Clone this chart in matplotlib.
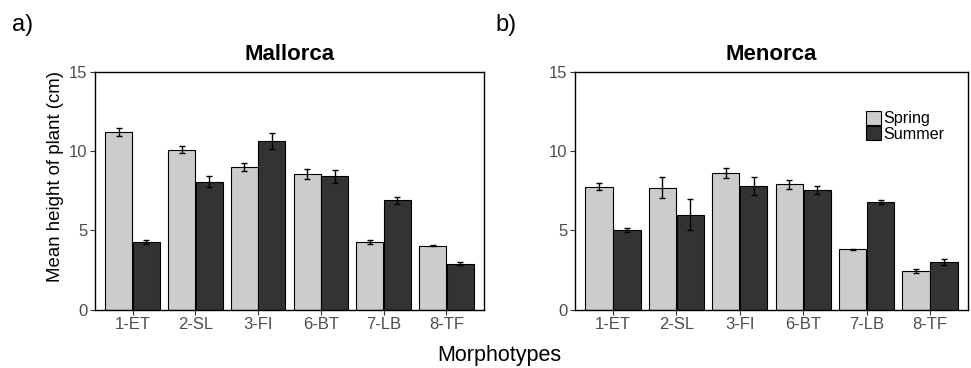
import matplotlib
matplotlib.use("Agg")
import matplotlib.pyplot as plt
import numpy as np
from matplotlib.patches import Patch

plt.rcParams['font.family'] = ['Liberation Sans', 'DejaVu Sans']

categories = ["1-ET", "2-SL", "3-FI", "6-BT", "7-LB", "8-TF"]
seasons = ["Spring", "Summer"]

mallorca_spring = [11.2, 10.1, 9.0, 8.56, 4.27, 4.04]
mallorca_spring_err = [0.25, 0.2, 0.28, 0.3, 0.15, 0.03]
mallorca_summer = [4.27, 8.07, 10.64, 8.41, 6.9, 2.9]
mallorca_summer_err = [0.15, 0.35, 0.53, 0.42, 0.22, 0.1]

menorca_spring = [7.76, 7.7, 8.62, 7.9, 3.8, 2.44]
menorca_spring_err = [0.23, 0.64, 0.3, 0.3, 0.05, 0.14]
menorca_summer = [5.03, 5.99, 7.8, 7.55, 6.79, 3.0]
menorca_summer_err = [0.14, 1.0, 0.59, 0.28, 0.15, 0.17]

spring_color = "#cccccc"
summer_color = "#333333"

fig = plt.figure(figsize=(9.71, 3.68), dpi=100)
H = 368.0
W = 971.0
def ax_rect(x0, x1, ytop, ybot):
    return [x0 / W, 1 - ybot / H, (x1 - x0) / W, (ybot - ytop) / H]

ax1 = fig.add_axes(ax_rect(95, 484, 72, 309.5))
ax2 = fig.add_axes(ax_rect(575, 968, 72, 309.5))

x = np.arange(len(categories))
bw = 0.43
off = 0.22

def draw(ax, title, sp, spe, su, sue):
    ax.bar(x - off, sp, width=bw, color=spring_color, edgecolor="black", linewidth=0.8, zorder=2)
    ax.bar(x + off, su, width=bw, color=summer_color, edgecolor="black", linewidth=0.8, zorder=2)
    ax.errorbar(x - off, sp, yerr=spe, fmt="none", ecolor="black", elinewidth=1, capsize=2.3, capthick=1, zorder=3)
    ax.errorbar(x + off, su, yerr=sue, fmt="none", ecolor="black", elinewidth=1, capsize=2.3, capthick=1, zorder=3)
    ax.set_xlim(-0.6, len(categories) - 0.4)
    ax.set_ylim(0, 15)
    ax.set_yticks([0, 5, 10, 15])
    ax.set_xticks(x)
    ax.set_xticklabels(categories)
    ax.tick_params(axis="both", direction="out", length=3.5, width=0.8, color="#333333",
                   labelsize=12, labelcolor="#4d4d4d", pad=2)
    for s in ax.spines.values():
        s.set_linewidth(1.0)
        s.set_color("black")
    ax.set_title(title, fontsize=16, fontweight="bold", pad=9)

draw(ax1, "Mallorca", mallorca_spring, mallorca_spring_err, mallorca_summer, mallorca_summer_err)
draw(ax2, "Menorca", menorca_spring, menorca_spring_err, menorca_summer, menorca_summer_err)

fig.text(56 / W, 1 - 176.5 / H, "Mean height of plant (cm)", fontsize=13.4,
         rotation=90, ha="center", va="center")

handles = [Patch(facecolor=spring_color, edgecolor="black", linewidth=0.8, label=seasons[0]),
           Patch(facecolor=summer_color, edgecolor="black", linewidth=0.8, label=seasons[1])]
ax2.legend(handles=handles, loc="upper left", bbox_to_anchor=((866 - 575) / 393.0, (309.5 - 111) / 237.5),
           frameon=False, fontsize=11.6, handlelength=0.95, handleheight=0.95, handletextpad=0.12,
           labelspacing=0.0, borderpad=0.0, borderaxespad=0.0)

fig.text(499 / W, 1 - 361.5 / H, "Morphotypes", fontsize=15.5, ha="center", va="baseline")
fig.text(12 / W, 1 - 25 / H, "a)", fontsize=17, ha="left", va="center")
fig.text(495 / W, 1 - 25 / H, "b)", fontsize=17, ha="left", va="center")

fig.savefig("out.png", dpi=100)
